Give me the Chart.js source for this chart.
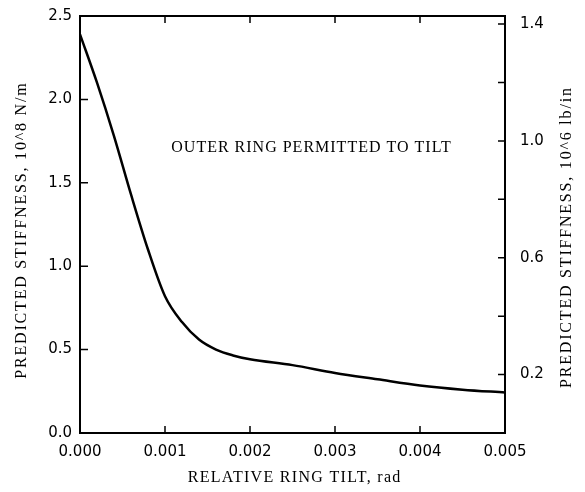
<!DOCTYPE html>
<html>
<head>
<meta charset="utf-8">
<script src="https://cdn.jsdelivr.net/npm/chart.js@4"></script>
<style>
  html, body { margin: 0; padding: 0; background: #fff; }
  #wrap { width: 585px; height: 492px; }
</style>
</head>
<body>
<div id="wrap"><canvas id="chart" width="585" height="492"></canvas></div>
<script>
// data
const tilt = [0, 0.0002, 0.0004, 0.0006, 0.0008, 0.001, 0.0012, 0.0014, 0.0016, 0.0018, 0.002, 0.0025, 0.003, 0.0035, 0.004, 0.0045, 0.005];
const stiffness = [2.39, 2.10, 1.78, 1.43, 1.10, 0.82, 0.665, 0.56, 0.50, 0.465, 0.442, 0.407, 0.36, 0.322, 0.285, 0.26, 0.243];

const xTicks = [0, 0.001, 0.002, 0.003, 0.004, 0.005];
const leftTicks = [0, 0.5, 1.0, 1.5, 2.0, 2.5];
const rightTicks = [0.2, 0.4, 0.6, 0.8, 1.0, 1.2, 1.4];
const rightLabeled = [0.2, 0.6, 1.0, 1.4];

const NM_PER_LBIN = 175.127; // 1 lb/in = 175.127 N/m
const leftMax = 2.5;
const rightMax = leftMax * 1e8 / NM_PER_LBIN / 1e6;

const serif = "'Liberation Serif', serif";
const sans = "'DejaVu Sans', sans-serif";

function spacedText(ctx, text, x, y, spacing) {
    ctx.letterSpacing = spacing + 'px';
    // letterSpacing adds a trailing gap, shift back by half of it
    ctx.fillText(text, x + spacing / 2, y);
    ctx.letterSpacing = '0px';
}

function fixSide(s) {
    s.width = 80;
    s.paddingTop = 0;
    s.paddingBottom = 0;
}

const framePlugin = {
    id: 'frame',
    afterDraw(chart) {
        const ctx = chart.ctx;
        const a = chart.chartArea;
        const x = chart.scales.x, y = chart.scales.y, y2 = chart.scales.y2;
        ctx.save();
        ctx.strokeStyle = '#000';
        ctx.lineWidth = 2;
        ctx.strokeRect(a.left, a.top, a.right - a.left, a.bottom - a.top);

        ctx.lineWidth = 1.5;
        ctx.beginPath();
        xTicks.forEach(v => {
            const px = x.getPixelForValue(v);
            ctx.moveTo(px, a.bottom); ctx.lineTo(px, a.bottom - 7);
            ctx.moveTo(px, a.top); ctx.lineTo(px, a.top + 7);
        });
        leftTicks.forEach(v => {
            const py = y.getPixelForValue(v);
            ctx.moveTo(a.left, py); ctx.lineTo(a.left + 8, py);
        });
        rightTicks.forEach(v => {
            const py = y2.getPixelForValue(v);
            ctx.moveTo(a.right, py); ctx.lineTo(a.right - 7, py);
        });
        ctx.stroke();

        ctx.fillStyle = '#000';
        ctx.font = '16px ' + serif;
        ctx.textAlign = 'center';
        ctx.textBaseline = 'middle';
        spacedText(ctx, 'RELATIVE RING TILT, rad', 294, 478, 1.3);
        spacedText(ctx, 'OUTER RING PERMITTED TO TILT', 311, 148, 1.0);

        ctx.save();
        ctx.translate(22, 231);
        ctx.rotate(-Math.PI / 2);
        spacedText(ctx, 'PREDICTED STIFFNESS, 10^8 N/m', 0, 0, 1.8);
        ctx.restore();

        ctx.save();
        ctx.translate(567, 238);
        ctx.rotate(-Math.PI / 2);
        spacedText(ctx, 'PREDICTED STIFFNESS, 10^6 lb/in', 0, 0, 1.8);
        ctx.restore();

        ctx.restore();
    }
};

new Chart(document.getElementById('chart'), {
    type: 'scatter',
    data: {
        datasets: [{
            data: tilt.map((t, i) => ({ x: t, y: stiffness[i] })),
            showLine: true,
            borderColor: '#000',
            borderWidth: 2.5,
            pointRadius: 0,
            cubicInterpolationMode: 'monotone',
            yAxisID: 'y'
        }]
    },
    options: {
        responsive: false,
        animation: false,
        events: [],
        layout: { padding: { top: 16 } },
        plugins: {
            legend: { display: false },
            tooltip: { enabled: false }
        },
        scales: {
            x: {
                type: 'linear',
                min: 0,
                max: 0.005,
                afterFit: s => { s.height = 59; },
                afterBuildTicks: s => { s.ticks = xTicks.map(v => ({ value: v })); },
                grid: { display: false, drawTicks: false },
                border: { display: false },
                ticks: {
                    padding: 10,
                    color: '#000',
                    font: { family: sans, size: 15 },
                    callback: v => v.toFixed(3)
                }
            },
            y: {
                position: 'left',
                min: 0,
                max: leftMax,
                afterFit: fixSide,
                afterBuildTicks: s => { s.ticks = leftTicks.map(v => ({ value: v })); },
                grid: { display: false, drawTicks: false },
                border: { display: false },
                ticks: {
                    padding: 8,
                    color: '#000',
                    font: { family: sans, size: 15 },
                    callback: v => v.toFixed(1)
                }
            },
            y2: {
                position: 'right',
                min: 0,
                max: rightMax,
                afterFit: fixSide,
                afterBuildTicks: s => { s.ticks = rightTicks.map(v => ({ value: v })); },
                grid: { display: false, drawTicks: false },
                border: { display: false },
                ticks: {
                    padding: 15,
                    color: '#000',
                    font: { family: sans, size: 15 },
                    callback: v => rightLabeled.some(r => Math.abs(r - v) < 1e-9) ? v.toFixed(1) : ''
                }
            }
        }
    },
    plugins: [framePlugin]
});
</script>
</body>
</html>
